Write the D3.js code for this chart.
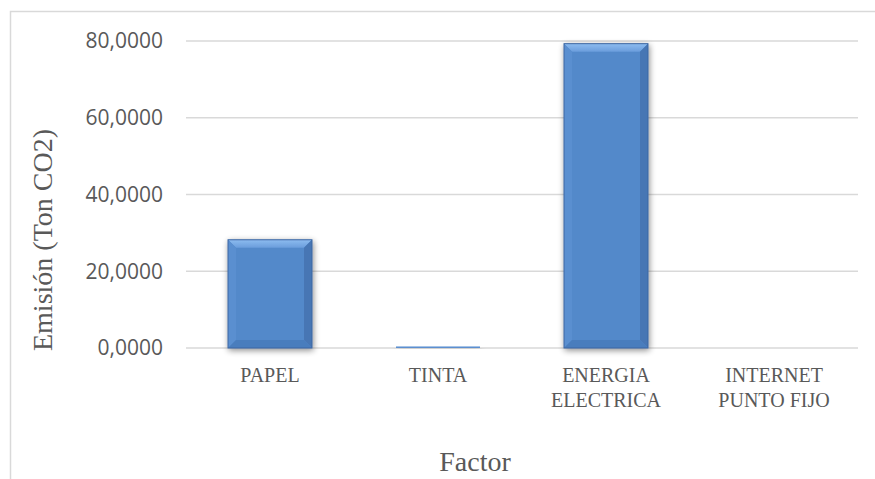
<!DOCTYPE html>
<html>
<head>
<meta charset="utf-8">
<script src="https://d3js.org/d3.v7.min.js"></script>
<style>
  body { margin: 0; background: #fff; }
  .tick-label { font-family: "Open Sans", sans-serif; font-size: 21px; fill: #595959; }
  .cat-label { font-family: "Liberation Serif", "Times New Roman", serif; font-size: 20px; fill: #595959; }
  .axis-title { font-family: "Liberation Serif", "Times New Roman", serif; font-size: 28px; fill: #595959; }
</style>
</head>
<body>
<svg width="875" height="479"></svg>
<script>
var categories = [["PAPEL"], ["TINTA"], ["ENERGIA", "ELECTRICA"], ["INTERNET", "PUNTO FIJO"]];
var values = [28.2, 0.4, 79.3, 0];
var yTicks = [0, 20, 40, 60, 80];

var svg = d3.select("svg");
var margin = { left: 186, right: 17, top: 41, bottom: 131 };
var width = 875 - margin.left - margin.right;
var height = 479 - margin.top - margin.bottom;

// chart border
svg.append("rect")
  .attr("x", 10.5).attr("y", 11.5)
  .attr("width", 900).attr("height", 500)
  .attr("fill", "none").attr("stroke", "#d9d9d9").attr("stroke-width", 1.5);

var defs = svg.append("defs");
var shadow = defs.append("filter").attr("id", "shadow")
  .attr("x", "-20%").attr("y", "-20%").attr("width", "140%").attr("height", "140%");
shadow.append("feGaussianBlur").attr("in", "SourceAlpha").attr("stdDeviation", 3);
shadow.append("feOffset").attr("dx", 1).attr("dy", 2).attr("result", "blur");
shadow.append("feComponentTransfer").append("feFuncA").attr("type", "linear").attr("slope", 0.45);
var merge = shadow.append("feMerge");
merge.append("feMergeNode");
merge.append("feMergeNode").attr("in", "SourceGraphic");

var topGrad = defs.append("linearGradient").attr("id", "topbev")
  .attr("x1", 0).attr("y1", 0).attr("x2", 0).attr("y2", 1);
topGrad.append("stop").attr("offset", "0%").attr("stop-color", "#8dbcf0");
topGrad.append("stop").attr("offset", "100%").attr("stop-color", "#6a9ddc");

var g = svg.append("g").attr("transform", "translate(" + margin.left + "," + margin.top + ")");

var x = d3.scaleBand()
  .domain(d3.range(categories.length))
  .range([0, width])
  .paddingInner(0.5)
  .paddingOuter(0.25);

var y = d3.scaleLinear().domain([0, 80]).range([height, 0]);

// gridlines
g.selectAll(".grid").data(yTicks).enter().append("line")
  .attr("x1", 0).attr("x2", width)
  .attr("y1", function(d) { return y(d); })
  .attr("y2", function(d) { return y(d); })
  .attr("stroke", "#d9d9d9").attr("stroke-width", 1.5);

// y tick labels
var fmt = function(d) { return d3.format(".4f")(d).replace(".", ","); };
g.selectAll(".tick-label").data(yTicks).enter().append("text")
  .attr("class", "tick-label")
  .attr("x", -23)
  .attr("y", function(d) { return y(d); })
  .attr("dy", "0.35em")
  .attr("text-anchor", "end")
  .text(fmt);

// bars with bevel
var bev = 8;
var bars = g.selectAll(".bar").data(values).enter().append("g")
  .attr("class", "bar")
  .attr("filter", function(d) { return d > 0 ? "url(#shadow)" : null; });

bars.each(function(d, i) {
  if (d <= 0) return;
  var sel = d3.select(this);
  var x0 = x(i), x1 = x(i) + x.bandwidth();
  var y0 = y(d), y1 = y(0);
  var b = Math.min(bev, (y1 - y0) / 2);
  sel.append("rect").attr("x", x0).attr("y", y0)
    .attr("width", x1 - x0).attr("height", Math.max(1.5, y1 - y0))
    .attr("fill", "#5389ca");
  if (b < 2) {
    sel.select("rect").attr("fill", "#5b8fd0");
    return;
  }
  var pts = function(p) { return p.map(function(q) { return q.join(","); }).join(" "); };
  sel.append("polygon").attr("points", pts([[x0, y0], [x1, y0], [x1 - b, y0 + b], [x0 + b, y0 + b]]))
    .attr("fill", "url(#topbev)");
  sel.append("polygon").attr("points", pts([[x0, y0], [x0 + b, y0 + b], [x0 + b, y1 - b], [x0, y1]]))
    .attr("fill", "#5a8fd0");
  sel.append("polygon").attr("points", pts([[x1, y0], [x1, y1], [x1 - b, y1 - b], [x1 - b, y0 + b]]))
    .attr("fill", "#4676b4");
  sel.append("polygon").attr("points", pts([[x0, y1], [x1, y1], [x1 - b, y1 - b], [x0 + b, y1 - b]]))
    .attr("fill", "#4a7dbd");
  sel.append("rect").attr("x", x0).attr("y", y0)
    .attr("width", x1 - x0).attr("height", y1 - y0)
    .attr("fill", "none").attr("stroke", "#3d67a2").attr("stroke-width", 1);
});

// category labels
var cat = g.selectAll(".cat-label").data(categories).enter().append("text")
  .attr("class", "cat-label")
  .attr("text-anchor", "middle")
  .attr("transform", function(d, i) {
    return "translate(" + (x(i) + x.bandwidth() / 2) + "," + (height + 34) + ")";
  });
cat.selectAll("tspan").data(function(d) { return d; }).enter().append("tspan")
  .attr("x", 0)
  .attr("y", function(d, j) { return j * 25; })
  .text(function(d) { return d; });

// axis titles
svg.append("text").attr("class", "axis-title")
  .attr("text-anchor", "middle")
  .attr("transform", "translate(52,240) rotate(-90)")
  .text("Emisión (Ton CO2)");

svg.append("text").attr("class", "axis-title")
  .attr("text-anchor", "middle")
  .attr("x", 475).attr("y", 471)
  .text("Factor");
</script>
</body>
</html>
